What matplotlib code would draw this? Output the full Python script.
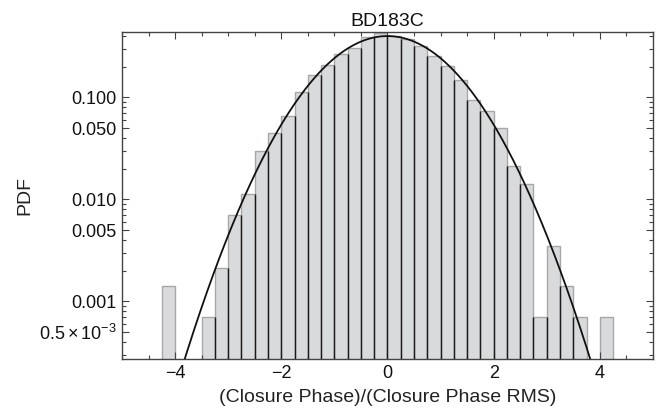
import numpy as np
import matplotlib
matplotlib.use('Agg')
import matplotlib.pyplot as plt
from matplotlib.ticker import FixedLocator, NullFormatter, MultipleLocator

plt.rcParams['font.family'] = ['Liberation Sans', 'DejaVu Sans']
plt.rcParams['mathtext.fontset'] = 'custom'
plt.rcParams['mathtext.rm'] = 'Liberation Sans'
plt.rcParams['mathtext.it'] = 'Liberation Sans:italic'

## histogram (bin width 0.25)
bin_edges = np.linspace(-4.25, 4.25, 35)
pdf_values = [1.41e-3, 0, 0, 7.1e-4, 2.13e-3, 7.06e-3, 0.01135, 0.0298,
              0.0444, 0.066, 0.1135, 0.1645, 0.2075, 0.267, 0.302, 0.393,
              0.43, 0.40, 0.371, 0.318, 0.256, 0.203, 0.148, 0.094,
              0.074, 0.0503, 0.0213, 0.0141, 7.1e-4, 3.5e-3, 1.41e-3, 7.1e-4,
              0, 7.1e-4]

# gaussian overlay
mu, sigma = 0.0, 1.0

yticks = [0.0005, 0.001, 0.005, 0.01, 0.05, 0.1]
ytick_labels = [r'$0.5\times10^{-3}$', '0.001', '0.005', '0.010', '0.050', '0.100']
xticks = [-4, -2, 0, 2, 4]

title = 'BD183C'
xlabel = '(Closure Phase)/(Closure Phase RMS)'
ylabel = 'PDF'

y_bottom, y_top = 2.72e-4, 0.44
axcol = '#444444'

fig = plt.figure(figsize=(6.68, 4.2), dpi=100)
ax = fig.add_axes([0.1826, 0.1452, 0.7949, 0.7793])
ax.set_yscale('log')

pdf = np.array(pdf_values)
left = bin_edges[:-1]
w = np.diff(bin_edges)
m = pdf > 0
base = 1e-6
ax.bar(left[m], pdf[m] - base, width=w[m], bottom=base, align='edge',
       facecolor='#d9dadb', edgecolor='#a8a8a8', linewidth=1.0, zorder=1)

# dark lines between neighbouring bars
inner = bin_edges[1:-1]
low = np.minimum(pdf[:-1], pdf[1:])
k = low > 0
ax.vlines(inner[k], base, low[k], color='#1a1a1a', linewidth=1.0, zorder=2)

xs = np.linspace(-5, 5, 600)
ys = np.exp(-0.5 * ((xs - mu) / sigma) ** 2) / (sigma * np.sqrt(2 * np.pi))
ax.plot(xs, ys, color='#111111', linewidth=1.3, zorder=3)

ax.set_xlim(-5, 5)
ax.set_ylim(y_bottom, y_top)

ax.xaxis.set_major_locator(FixedLocator(xticks))
ax.xaxis.set_minor_locator(MultipleLocator(0.5))
ax.set_xticklabels([str(t) if t >= 0 else '\u2212' + str(-t) for t in xticks])

ax.yaxis.set_major_locator(FixedLocator(yticks))
ax.set_yticklabels(ytick_labels)
minor = [m_ * 10.0 ** e for e in range(-4, 0) for m_ in range(1, 10)]
minor = [v for v in minor if v not in yticks]
ax.yaxis.set_minor_locator(FixedLocator(minor))
ax.yaxis.set_minor_formatter(NullFormatter())

ax.tick_params(which='both', direction='in', top=True, right=True,
               colors=axcol, labelcolor='#111111', labelsize=13, width=0.8)
ax.tick_params(which='major', length=5, pad=4)
ax.tick_params(which='minor', length=3)
for s in ax.spines.values():
    s.set_color(axcol)
    s.set_linewidth(1.0)

ax.set_title(title, fontsize=14, color='#111111', pad=4)
ax.set_xlabel(xlabel, fontsize=14, color='#222222', labelpad=5)
ax.set_ylabel(ylabel, fontsize=14, color='#222222', labelpad=4)

fig.savefig('out.png', dpi=100)
